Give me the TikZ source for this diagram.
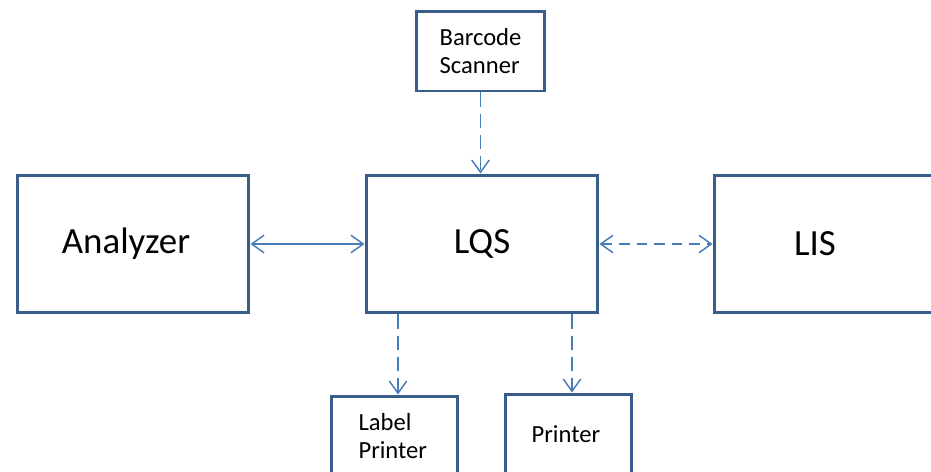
\documentclass[tikz,border=0pt]{standalone}
\usepackage{fontspec}
\setmainfont{Carlito}
\usetikzlibrary{arrows.meta}
\definecolor{boxblue}{RGB}{56,93,138}
\definecolor{linkblue}{RGB}{74,126,187}
\begin{document}
\begin{tikzpicture}[x=0.02cm, y=-0.02cm,
    bigbox/.style={rectangle, draw=boxblue, line width=1.7pt, minimum width=4.64cm, minimum height=2.76cm, font=\fontsize{21}{25}\selectfont},
    smallbox/.style={rectangle, draw=boxblue, line width=1.7pt, minimum width=2.58cm, minimum height=1.6cm, align=left, font=\fontsize{14}{16.4}\selectfont},
    link/.style={draw=linkblue, line width=0.85pt, {Straight Barb[length=7pt,width=10pt]}-{Straight Barb[length=7pt,width=10pt]}},
    flow/.style={draw=linkblue, line width=0.85pt, dash pattern=on 8pt off 4pt, -{Straight Barb[length=7pt,width=10pt]}}]
    \clip (0,0) rectangle (931,471);
    \node[bigbox] (ana) at (133,244) {\hspace*{-8pt}Analyzer};
    \node[bigbox] (lqs) at (482,244) {LQS};
    \node[bigbox] (lis) at (830,244) {\hspace*{-17pt}LIS};
    \node[smallbox] (bar) at (480.5,51) {Barcode\\Scanner};
    \node[smallbox, minimum width=2.54cm] (lab) at (394.5,436) {\hspace*{-2pt}Label\\\hspace*{-2pt}Printer};
    \node[smallbox, minimum width=2.54cm] (prn) at (568.5,434) {\hspace*{-3pt}Printer};
    \draw[link] (ana) -- (lqs);
    \draw[link, dash pattern=on 6pt off 4pt] (lqs) -- (lis);
    \draw[flow] (bar.south) -- (bar.south |- lqs.north);
    \draw[flow] ([xshift=2pt]lqs.south -| lab) -- ([xshift=2pt]lab.north);
    \draw[flow] ([xshift=2pt]lqs.south -| prn) -- ([xshift=2pt]prn.north);
\end{tikzpicture}
\end{document}
